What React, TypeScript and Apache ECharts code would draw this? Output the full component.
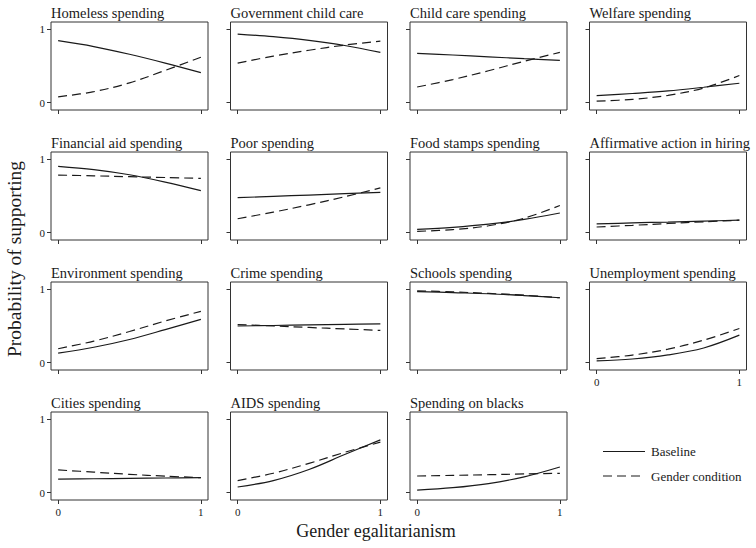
import React, { useEffect, useRef } from "react";
import * as echarts from "echarts";

// Gender egalitarianism values at which each predicted probability is given
const xs = [0, 0.25, 0.5, 0.75, 1];

const panelTitles = [
  "Homeless spending",
  "Government child care",
  "Child care spending",
  "Welfare spending",
  "Financial aid spending",
  "Poor spending",
  "Food stamps spending",
  "Affirmative action in hiring",
  "Environment spending",
  "Crime spending",
  "Schools spending",
  "Unemployment spending",
  "Cities spending",
  "AIDS spending",
  "Spending on blacks",
];

// Predicted probability of supporting, baseline condition
const baseline = [
  [0.845, 0.765, 0.66, 0.54, 0.41],
  [0.935, 0.9, 0.85, 0.78, 0.685],
  [0.673, 0.65, 0.625, 0.6, 0.577],
  [0.095, 0.125, 0.16, 0.21, 0.265],
  [0.905, 0.86, 0.79, 0.69, 0.573],
  [0.477, 0.495, 0.513, 0.532, 0.55],
  [0.045, 0.073, 0.116, 0.18, 0.268],
  [0.12, 0.133, 0.145, 0.158, 0.17],
  [0.13, 0.21, 0.316, 0.45, 0.59],
  [0.5, 0.507, 0.515, 0.523, 0.53],
  [0.97, 0.955, 0.94, 0.915, 0.885],
  [0.025, 0.05, 0.105, 0.2, 0.375],
  [0.185, 0.19, 0.195, 0.2, 0.205],
  [0.077, 0.165, 0.316, 0.52, 0.72],
  [0.036, 0.068, 0.124, 0.216, 0.35],
];

// Predicted probability of supporting, gender condition
const genderCondition = [
  [0.08, 0.15, 0.27, 0.44, 0.62],
  [0.54, 0.635, 0.715, 0.785, 0.84],
  [0.214, 0.315, 0.435, 0.565, 0.686],
  [0.02, 0.045, 0.1, 0.2, 0.37],
  [0.786, 0.775, 0.763, 0.752, 0.74],
  [0.19, 0.28, 0.38, 0.49, 0.61],
  [0.018, 0.042, 0.094, 0.198, 0.37],
  [0.077, 0.1, 0.125, 0.148, 0.17],
  [0.19, 0.294, 0.425, 0.568, 0.7],
  [0.52, 0.5, 0.48, 0.46, 0.44],
  [0.98, 0.965, 0.945, 0.92, 0.885],
  [0.055, 0.103, 0.184, 0.307, 0.466],
  [0.31, 0.28, 0.25, 0.225, 0.205],
  [0.165, 0.265, 0.4, 0.55, 0.69],
  [0.227, 0.236, 0.245, 0.255, 0.264],
];

const tickValues = [0, 1];
const legendLabels = ["Baseline", "Gender condition"];
const xAxisTitle = "Gender egalitarianism";
const yAxisTitle = "Probability of supporting";

const SERIF = "'Liberation Serif', 'DejaVu Serif', serif";
const INK = "#1a1a1a";

const COL_LEFT = [51, 230.5, 410, 589.5];
const ROW_TOP = [22, 152, 282, 412];
const BOX_W = 157;
const BOX_H = 88;

function buildOption() {
  const grid: any[] = [];
  const xAxis: any[] = [];
  const yAxis: any[] = [];
  const series: any[] = [];
  const title: any[] = [];

  panelTitles.forEach((name, i) => {
    const row = Math.floor(i / 4);
    const col = i % 4;
    const left = COL_LEFT[col];
    const top = ROW_TOP[row];
    const showXLabels = row === 3 || i === 11;
    const showYLabels = col === 0;

    grid.push({
      left,
      top,
      width: BOX_W,
      height: BOX_H,
      show: true,
      borderColor: "#333",
      borderWidth: 1,
      backgroundColor: "transparent",
      containLabel: false,
    });

    title.push({
      text: name,
      left: left,
      top: top - 17,
      padding: 0,
      textStyle: {
        fontFamily: SERIF,
        fontSize: 14.5,
        fontWeight: "normal",
        color: INK,
      },
    });

    xAxis.push({
      type: "value",
      gridIndex: i,
      min: -0.05,
      max: 1.05,
      axisLine: { show: false, onZero: false },
      splitLine: { show: false },
      axisTick: {
        show: true,
        length: 4,
        inside: false,
        customValues: tickValues,
        lineStyle: { color: "#333", width: 1 },
      },
      axisLabel: {
        show: showXLabels,
        customValues: tickValues,
        margin: 6,
        fontFamily: SERIF,
        fontSize: 11,
        color: INK,
      },
    });

    yAxis.push({
      type: "value",
      gridIndex: i,
      min: -0.1,
      max: 1.1,
      axisLine: { show: false, onZero: false },
      splitLine: { show: false },
      axisTick: {
        show: true,
        length: 4,
        inside: false,
        customValues: tickValues,
        lineStyle: { color: "#333", width: 1 },
      },
      axisLabel: {
        show: showYLabels,
        customValues: tickValues,
        margin: 6,
        fontFamily: SERIF,
        fontSize: 11,
        color: INK,
      },
    });

    series.push({
      type: "line",
      name: legendLabels[0],
      xAxisIndex: i,
      yAxisIndex: i,
      data: xs.map((x, k) => [x, baseline[i][k]]),
      smooth: 0.35,
      showSymbol: false,
      symbol: "none",
      lineStyle: { color: INK, width: 1.2, type: "solid" },
    });
    series.push({
      type: "line",
      name: legendLabels[1],
      xAxisIndex: i,
      yAxisIndex: i,
      data: xs.map((x, k) => [x, genderCondition[i][k]]),
      smooth: 0.35,
      showSymbol: false,
      symbol: "none",
      lineStyle: { color: INK, width: 1.2, type: [9, 5] },
    });
  });

  const graphic: any[] = [
    {
      type: "text",
      x: 14,
      y: 259,
      rotation: Math.PI / 2,
      style: {
        text: yAxisTitle,
        font: `19.5px ${SERIF}`,
        fill: INK,
        textAlign: "center",
        textVerticalAlign: "middle",
        align: "center",
        verticalAlign: "middle",
      },
    },
    {
      type: "text",
      x: 376,
      y: 531,
      style: {
        text: xAxisTitle,
        font: `18px ${SERIF}`,
        fill: INK,
        textAlign: "center",
        textVerticalAlign: "middle",
        align: "center",
        verticalAlign: "middle",
      },
    },
    // Legend: solid and dashed keys with their labels
    {
      type: "line",
      shape: { x1: 603, y1: 451.5, x2: 645, y2: 451.5 },
      style: { stroke: INK, lineWidth: 1.2 },
    },
    {
      type: "line",
      shape: { x1: 603, y1: 476, x2: 645, y2: 476 },
      style: { stroke: INK, lineWidth: 1.2, lineDash: [9, 5] },
    },
    {
      type: "text",
      x: 651,
      y: 451.5,
      style: {
        text: legendLabels[0],
        font: `13px ${SERIF}`,
        fill: INK,
        textAlign: "left",
        textVerticalAlign: "middle",
        align: "left",
        verticalAlign: "middle",
      },
    },
    {
      type: "text",
      x: 651,
      y: 476,
      style: {
        text: legendLabels[1],
        font: `13px ${SERIF}`,
        fill: INK,
        textAlign: "left",
        textVerticalAlign: "middle",
        align: "left",
        verticalAlign: "middle",
      },
    },
  ];

  return {
    animation: false,
    backgroundColor: "#ffffff",
    title,
    grid,
    xAxis,
    yAxis,
    series,
    graphic,
  };
}

export default function App() {
  const ref = useRef<HTMLDivElement>(null);

  useEffect(() => {
    if (!ref.current) return;
    const chart = echarts.init(ref.current, null, { renderer: "svg" });
    chart.setOption(buildOption() as any);
    return () => {
      chart.dispose();
    };
  }, []);

  return (
    <div
      ref={ref}
      style={{
        position: "absolute",
        left: 0,
        top: 0,
        width: 756,
        height: 548,
      }}
    />
  );
}
